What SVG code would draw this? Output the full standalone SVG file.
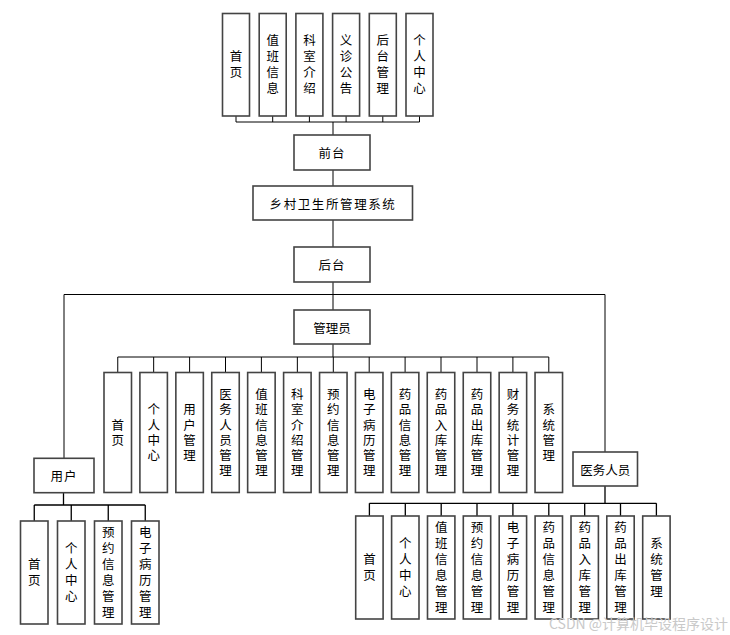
<svg xmlns="http://www.w3.org/2000/svg" width="730" height="635" viewBox="0 0 730 635">
<style>
.box{fill:#fff;stroke:#444;stroke-width:1.6}
.c{fill:none;stroke:#000;stroke-width:1}
text{font-family:"Noto Sans CJK SC","Liberation Sans",sans-serif;font-size:12.5px;fill:#000;text-anchor:middle;dominant-baseline:central}
.v{writing-mode:vertical-rl;letter-spacing:3.5px}
.va{writing-mode:vertical-rl;letter-spacing:2.8px}
.wm{font-size:14px;fill:#c9c9c9;text-anchor:start}
</style>
<rect width="730" height="635" fill="#fff"/>
<g id="connectors">
<path class="c" d="M236 116V122M272.7 116V122M309.4 116V122M346.1 116V122M382.8 116V122M419.5 116V122M236 122H419.5M333 122V135"/>
<path class="c" d="M333 170V186M333 220V247M333 282V294.5M64 294.5H605M64 294.5V458M333 294.5V310M605 294.5V452"/>
<path class="c" d="M333 344V357M117.75 357H548.8"/>
<path class="c" d="M117.75 357V372.5M153.67 357V372.5M189.6 357V372.5M225.5 357V372.5M261.4 357V372.5M297.35 357V372.5M333.3 357V372.5M369.2 357V372.5M405.1 357V372.5M441 357V372.5M477 357V372.5M512.9 357V372.5M548.8 357V372.5"/>
<path class="c" d="M63.5 492.7V505M34.25 505H145.25M34.25 505V521M71.25 505V521M108.25 505V521M145.25 505V521" style="stroke-width:1.3"/>
<path class="c" d="M605 485.7V503.3M369.4 503.3H656.4M369.4 503.3V516M405.3 503.3V516M441.2 503.3V516M477 503.3V516M512.9 503.3V516M548.8 503.3V516M584.7 503.3V516M620.5 503.3V516M656.4 503.3V516" style="stroke-width:1.3"/>
</g>
<g id="top-nodes">
<g id="t1"><rect class="box" x="222.5" y="13.5" width="27" height="102.5"/><text class="v" x="236" y="66.3">首页</text></g>
<g id="t2"><rect class="box" x="259.2" y="13.5" width="27" height="102.5"/><text class="v" x="272.7" y="66.3">值班信息</text></g>
<g id="t3"><rect class="box" x="295.9" y="13.5" width="27" height="102.5"/><text class="v" x="309.4" y="66.3">科室介绍</text></g>
<g id="t4"><rect class="box" x="332.6" y="13.5" width="27" height="102.5"/><text class="v" x="346.1" y="66.3">义诊公告</text></g>
<g id="t5"><rect class="box" x="369.3" y="13.5" width="27" height="102.5"/><text class="v" x="382.8" y="66.3">后台管理</text></g>
<g id="t6"><rect class="box" x="406" y="13.5" width="27" height="102.5"/><text class="v" x="419.5" y="66.3">个人中心</text></g>
</g>
<g id="qiantai"><rect class="box" x="294" y="135" width="76" height="35"/><text x="332" y="152.5" style="letter-spacing:1px">前台</text></g>
<g id="system"><rect class="box" x="253" y="186" width="159.5" height="34"/><text x="333" y="203" style="letter-spacing:1.6px">乡村卫生所管理系统</text></g>
<g id="houtai"><rect class="box" x="294" y="247" width="76" height="35"/><text x="332" y="264.5" style="letter-spacing:1px">后台</text></g>
<g id="admin"><rect class="box" x="294" y="310" width="76" height="34"/><text x="332" y="327">管理员</text></g>
<g id="user"><rect class="box" x="34" y="458.3" width="60" height="34.4"/><text x="64" y="475.5" style="letter-spacing:1px">用户</text></g>
<g id="staff"><rect class="box" x="573" y="452" width="64.5" height="34"/><text x="605.2" y="469">医务人员</text></g>
<g id="admin-children">
<g id="a1"><rect class="box" x="104" y="372.5" width="27.5" height="120"/><text class="va" x="117.75" y="433.9">首页</text></g>
<g id="a2"><rect class="box" x="139.9" y="372.5" width="27.5" height="120"/><text class="va" x="153.67" y="433.9">个人中心</text></g>
<g id="a3"><rect class="box" x="175.85" y="372.5" width="27.5" height="120"/><text class="va" x="189.6" y="433.9">用户管理</text></g>
<g id="a4"><rect class="box" x="211.75" y="372.5" width="27.5" height="120"/><text class="va" x="225.5" y="433.9">医务人员管理</text></g>
<g id="a5"><rect class="box" x="247.65" y="372.5" width="27.5" height="120"/><text class="va" x="261.4" y="433.9">值班信息管理</text></g>
<g id="a6"><rect class="box" x="283.6" y="372.5" width="27.5" height="120"/><text class="va" x="297.35" y="433.9">科室介绍管理</text></g>
<g id="a7"><rect class="box" x="319.55" y="372.5" width="27.5" height="120"/><text class="va" x="333.3" y="433.9">预约信息管理</text></g>
<g id="a8"><rect class="box" x="355.45" y="372.5" width="27.5" height="120"/><text class="va" x="369.2" y="433.9">电子病历管理</text></g>
<g id="a9"><rect class="box" x="391.35" y="372.5" width="27.5" height="120"/><text class="va" x="405.1" y="433.9">药品信息管理</text></g>
<g id="a10"><rect class="box" x="427.25" y="372.5" width="27.5" height="120"/><text class="va" x="441" y="433.9">药品入库管理</text></g>
<g id="a11"><rect class="box" x="463.25" y="372.5" width="27.5" height="120"/><text class="va" x="477" y="433.9">药品出库管理</text></g>
<g id="a12"><rect class="box" x="499.15" y="372.5" width="27.5" height="120"/><text class="va" x="512.9" y="433.9">财务统计管理</text></g>
<g id="a13"><rect class="box" x="535.05" y="372.5" width="27.5" height="120"/><text class="va" x="548.8" y="433.9">系统管理</text></g>
</g>
<g id="user-children">
<g id="u1"><rect class="box" x="20.5" y="521" width="27.5" height="103"/><text class="v" x="34.25" y="574.3">首页</text></g>
<g id="u2"><rect class="box" x="57.5" y="521" width="27.5" height="103"/><text class="v" x="71.25" y="574.3">个人中心</text></g>
<g id="u3"><rect class="box" x="94.5" y="521" width="27.5" height="103"/><text class="v" x="108.25" y="574.3">预约信息管理</text></g>
<g id="u4"><rect class="box" x="131.5" y="521" width="27.5" height="103"/><text class="v" x="145.25" y="574.3">电子病历管理</text></g>
</g>
<g id="staff-children">
<g id="s1"><rect class="box" x="355.7" y="516" width="27.4" height="103"/><text class="v" x="369.4" y="569.3">首页</text></g>
<g id="s2"><rect class="box" x="391.6" y="516" width="27.4" height="103"/><text class="v" x="405.3" y="569.3">个人中心</text></g>
<g id="s3"><rect class="box" x="427.5" y="516" width="27.4" height="103"/><text class="v" x="441.2" y="569.3">值班信息管理</text></g>
<g id="s4"><rect class="box" x="463.3" y="516" width="27.4" height="103"/><text class="v" x="477" y="569.3">预约信息管理</text></g>
<g id="s5"><rect class="box" x="499.2" y="516" width="27.4" height="103"/><text class="v" x="512.9" y="569.3">电子病历管理</text></g>
<g id="s6"><rect class="box" x="535.1" y="516" width="27.4" height="103"/><text class="v" x="548.8" y="569.3">药品信息管理</text></g>
<g id="s7"><rect class="box" x="571" y="516" width="27.4" height="103"/><text class="v" x="584.7" y="569.3">药品入库管理</text></g>
<g id="s8"><rect class="box" x="606.8" y="516" width="27.4" height="103"/><text class="v" x="620.5" y="569.3">药品出库管理</text></g>
<g id="s9"><rect class="box" x="642.7" y="516" width="27.4" height="103"/><text class="v" x="656.4" y="569.3">系统管理</text></g>
</g>
<text class="wm" x="549" y="623">CSDN @计算机毕设程序设计</text>
</svg>
